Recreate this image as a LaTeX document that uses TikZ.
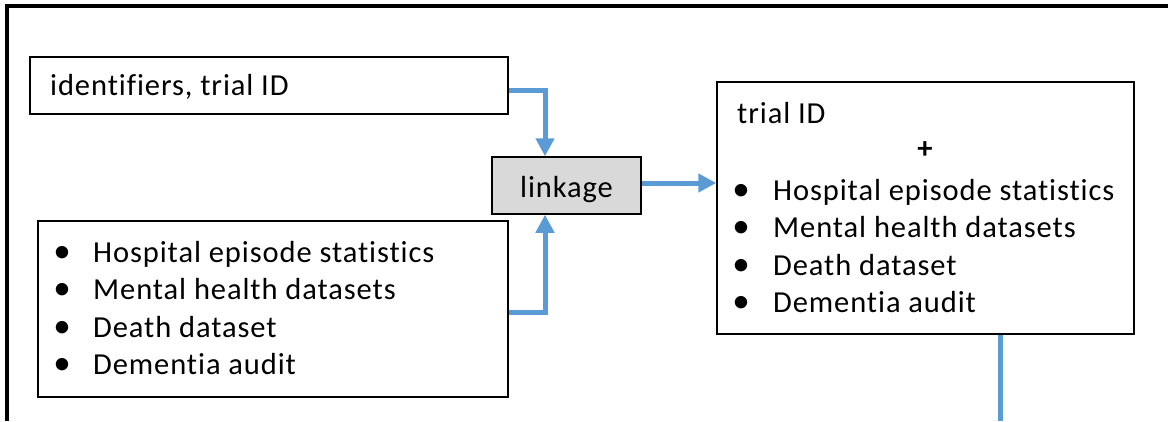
\documentclass[tikz,border=0pt]{standalone}
\usepackage{fontspec}
\setmainfont{Carlito}[Ligatures=NoCommon,LetterSpace=3]
\usetikzlibrary{arrows.meta,positioning}
\definecolor{flowblue}{HTML}{5B9BD5}
\definecolor{linkgray}{HTML}{D9D9D9}
\newcommand{\bigbullet}{\scalebox{1.15}{\textbullet}}
\tikzset{
  box/.style={draw=black,line width=1.5pt,fill=white,inner sep=0pt},
  txt/.style={anchor=base west,inner sep=0pt,font=\fontsize{30.5}{36}\selectfont},
  bul/.style={anchor=base,inner sep=0pt,font=\fontsize{30.5}{36}\selectfont},
  conn/.style={draw=flowblue,line width=5pt,-{Triangle[length=18pt,width=18pt]}},
  plain/.style={draw=flowblue,line width=5pt}
}
\begin{document}
\begin{tikzpicture}[x=1pt,y=-1pt]
\useasboundingbox (0,0) rectangle (1168,421);
% outer frame (top and left edges)
\draw[line width=4pt] (7,421) -- (7,6) -- (1168,6);

% boxes
\node[box,minimum width=478pt,minimum height=57pt] (ids) at (269,85.5) {};
\node[box,minimum width=470pt,minimum height=176pt] (data) at (273,309) {};
\node[box,fill=linkgray,minimum width=149pt,minimum height=57pt] (link) at (566.5,185.5) {};
\node[box,minimum width=417pt,minimum height=252pt] (res) at (925.5,208) {};

% texts
\node[txt] (idstext) at (50,95) {identifiers, trial ID};
\node[bul] (linktext) at (566.5,197) {linkage};

\node[bul] (b1) at (62,262) {\bigbullet};
\node[txt] (t1) at (93,262) {Hospital episode statistics};
\node[bul] (b2) at (62,299.5) {\bigbullet};
\node[txt] (t2) at (93,299.5) {Mental health datasets};
\node[bul] (b3) at (62,337) {\bigbullet};
\node[txt] (t3) at (93,337) {Death dataset};
\node[bul] (b4) at (62,374.5) {\bigbullet};
\node[txt] (t4) at (93,374.5) {Dementia audit};

\node[txt] (trial) at (737,123) {trial ID};
\node[bul,font=\fontsize{30.5}{36}\selectfont\bfseries] (plus) at (925,158) {+};
\node[bul] (r1) at (741,200) {\bigbullet};
\node[txt] (s1) at (773,200) {Hospital episode statistics};
\node[bul] (r2) at (741,237.5) {\bigbullet};
\node[txt] (s2) at (773,237.5) {Mental health datasets};
\node[bul] (r3) at (741,275) {\bigbullet};
\node[txt] (s3) at (773,275) {Death dataset};
\node[bul] (r4) at (741,312.5) {\bigbullet};
\node[txt] (s4) at (773,312.5) {Dementia audit};

% connectors
\draw[conn] ([yshift=-4.5pt]ids.east) -| ([xshift=-21.5pt]link.north);
\draw[conn] ([yshift=-3pt]data.east) -| ([xshift=-21.5pt]link.south);
\draw[conn] ([yshift=2.5pt]link.east) -- ([yshift=2.5pt]link.east -| res.west);
\coordinate (down) at (1000,421);
\draw[plain] ([xshift=74.5pt]res.south) -- (down);
\end{tikzpicture}
\end{document}
